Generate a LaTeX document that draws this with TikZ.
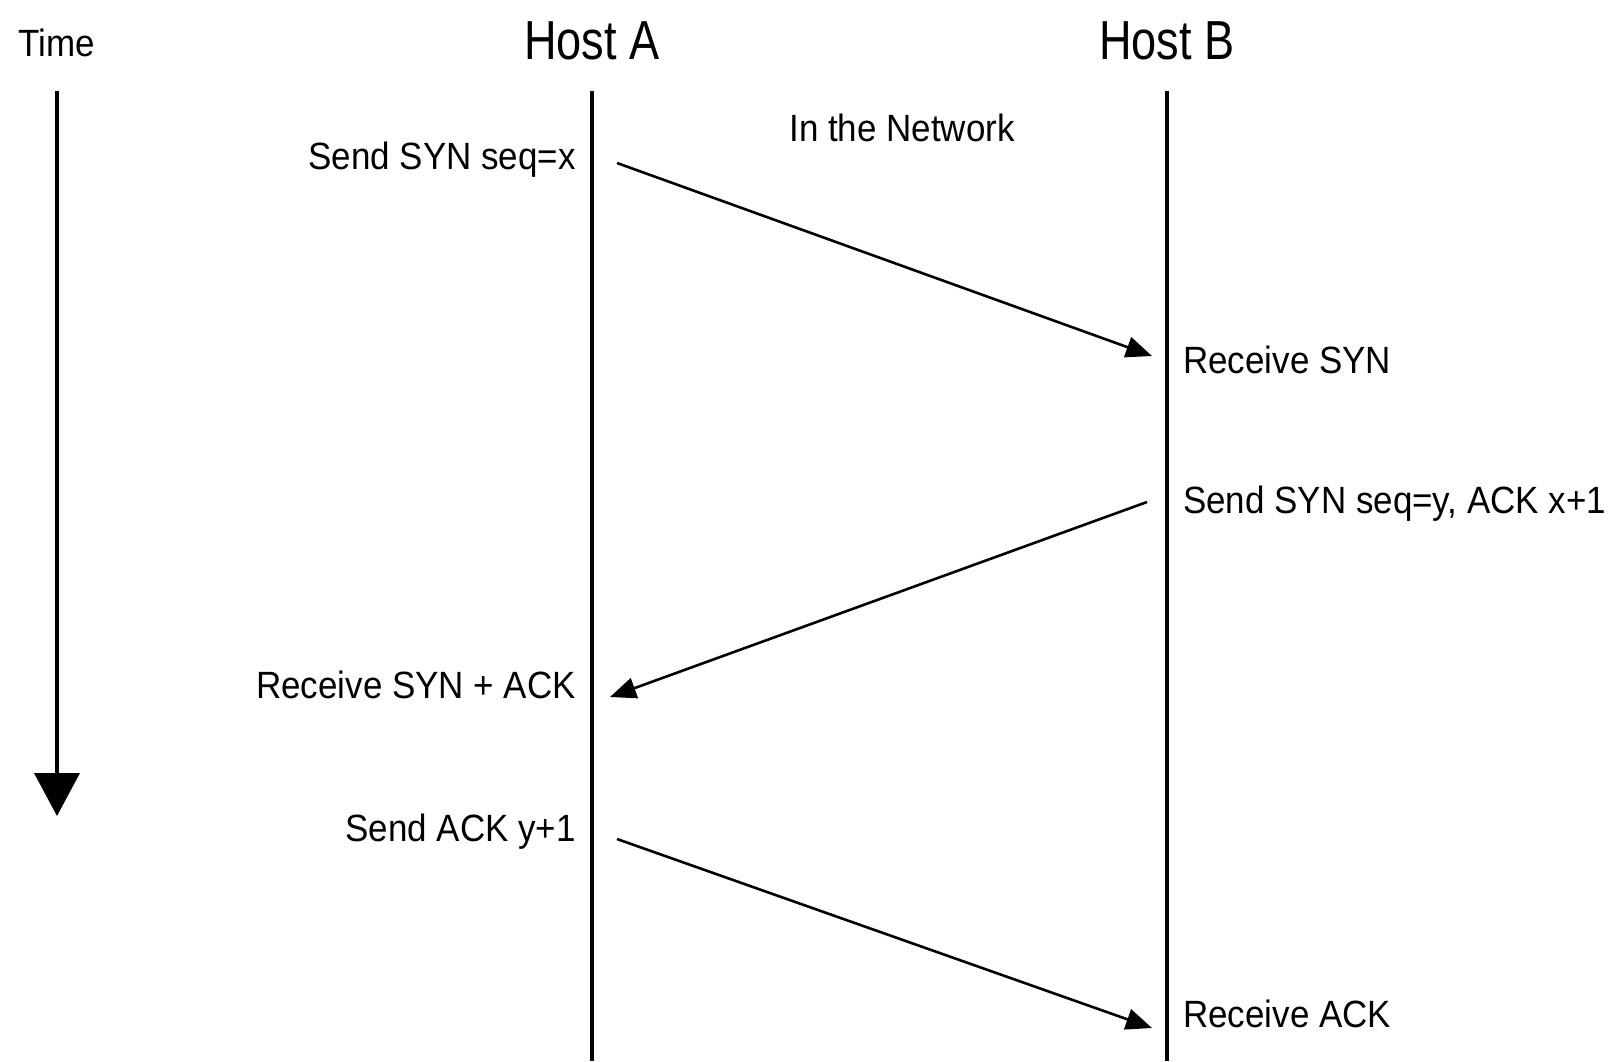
\documentclass[tikz,border=0pt]{standalone}
\usepackage{fontspec}
\setmainfont[FakeStretch=0.92]{Liberation Sans}
\newfontfamily\hostfont[FakeStretch=0.82]{Liberation Sans}
\usetikzlibrary{arrows.meta}
\begin{document}
\begin{tikzpicture}[x=1pt,y=-1pt,
  lbl/.style={inner sep=0pt,font=\fontsize{38}{44}\selectfont},
  hostlbl/.style={inner sep=0pt,font=\hostfont\fontsize{55}{60}\selectfont},
  lifeline/.style={line width=4pt},
  msg/.style={line width=2.6pt,-{Triangle[length=26pt,width=21pt]}},
  timearrow/.style={line width=4pt,-{Triangle[length=43pt,width=45pt]}}]
\useasboundingbox[fill=white] (0,0) rectangle (1620,1061);
% labels
\node[lbl,anchor=base] (time) at (57,56) {Time};
\node[hostlbl,anchor=base] (hostA) at (592,59) {Host A};
\node[hostlbl,anchor=base] (hostB) at (1167,59) {Host B};
\node[lbl,anchor=base] (net) at (902,141) {In the Network};
\node[lbl,anchor=base east] (s1) at (576,169) {Send SYN seq=x};
\node[lbl,anchor=base west] (r1) at (1183,373) {Receive SYN};
\node[lbl,anchor=base west] (s2) at (1183,513) {Send SYN seq=y, ACK x+1};
\node[lbl,anchor=base east] (r2) at (576,698) {Receive SYN + ACK};
\node[lbl,anchor=base east] (s3) at (576,841) {Send ACK y+1};
\node[lbl,anchor=base west] (r3) at (1183,1027) {Receive ACK};
% coordinates
\coordinate (ta) at (57,91);
\coordinate (tb) at (57,816);
\coordinate (atop) at (592,91);
\coordinate (abot) at (592,1061);
\coordinate (btop) at (1167,91);
\coordinate (bbot) at (1167,1061);
\coordinate (m1s) at (617,163);
\coordinate (m1e) at (1152,356);
\coordinate (m2s) at (1147,502);
\coordinate (m2e) at (610,697);
\coordinate (m3s) at (617,839);
\coordinate (m3e) at (1152,1028);
% lines
\draw[timearrow] (ta) -- (tb);
\draw[lifeline] (atop) -- (abot);
\draw[lifeline] (btop) -- (bbot);
\draw[msg] (m1s) -- (m1e);
\draw[msg] (m2s) -- (m2e);
\draw[msg] (m3s) -- (m3e);
\end{tikzpicture}
\end{document}
